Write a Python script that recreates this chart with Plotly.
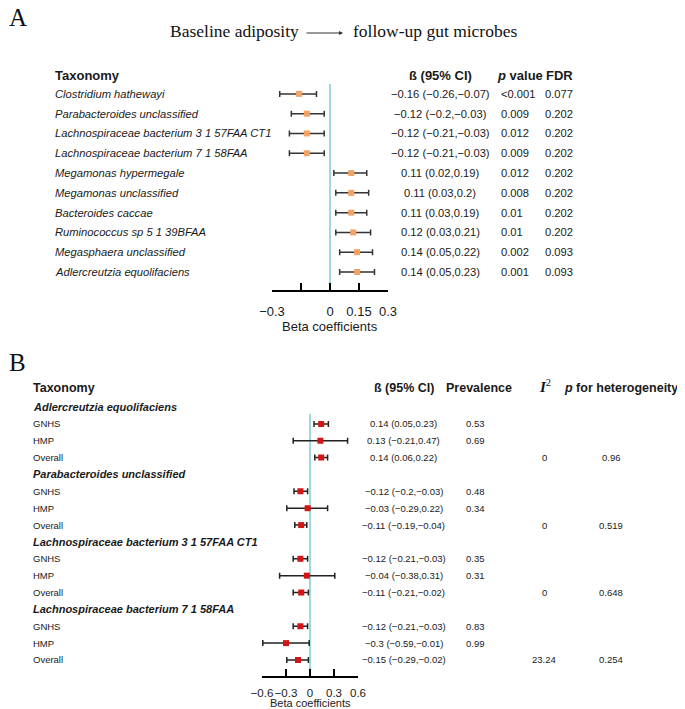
import plotly.graph_objects as go

# ---------------- Data: panel A ----------------
taxa_A = ["Clostridium hathewayi", "Parabacteroides unclassified",
          "Lachnospiraceae bacterium 3 1 57FAA CT1", "Lachnospiraceae bacterium 7 1 58FAA",
          "Megamonas hypermegale", "Megamonas unclassified", "Bacteroides caccae",
          "Ruminococcus sp 5 1 39BFAA", "Megasphaera unclassified", "Adlercreutzia equolifaciens"]
beta_A = [-0.16, -0.12, -0.12, -0.12, 0.11, 0.11, 0.11, 0.12, 0.14, 0.14]
lo_A = [-0.26, -0.2, -0.21, -0.21, 0.02, 0.03, 0.03, 0.03, 0.05, 0.05]
hi_A = [-0.07, -0.03, -0.03, -0.03, 0.19, 0.2, 0.19, 0.21, 0.22, 0.23]
p_A = ["<0.001", "0.009", "0.012", "0.009", "0.012", "0.008", "0.01", "0.01", "0.002", "0.001"]
fdr_A = ["0.077", "0.202", "0.202", "0.202", "0.202", "0.202", "0.202", "0.202", "0.093", "0.093"]
ticks_A = [-0.3, -0.15, 0, 0.15, 0.3]
ticktext_A = ["−0.3", "", "0", "0.15", "0.3"]

# ---------------- Data: panel B ----------------
groups_B = ["Adlercreutzia equolifaciens", "Parabacteroides unclassified",
            "Lachnospiraceae bacterium 3 1 57FAA CT1", "Lachnospiraceae bacterium 7 1 58FAA"]
cohorts_B = ["GNHS", "HMP", "Overall"]
beta_B = [0.14, 0.13, 0.14, -0.12, -0.03, -0.11, -0.12, -0.04, -0.11, -0.12, -0.3, -0.15]
lo_B = [0.05, -0.21, 0.06, -0.2, -0.29, -0.19, -0.21, -0.38, -0.21, -0.21, -0.59, -0.29]
hi_B = [0.23, 0.47, 0.22, -0.03, 0.22, -0.04, -0.03, 0.31, -0.02, -0.03, -0.01, -0.02]
prev_B = ["0.53", "0.69", "", "0.48", "0.34", "", "0.35", "0.31", "", "0.83", "0.99", ""]
i2_B = ["0", "0", "0", "23.24"]
phet_B = ["0.96", "0.519", "0.648", "0.254"]
ticks_B = [-0.6, -0.3, 0, 0.3, 0.6]
ticktext_B = ["−0.6", "−0.3", "0", "0.3", "0.6"]

# page body has an 8px margin; figure fills the rest of the 685x709 window
OFF = 8
W, H = 685 - OFF, 709 - OFF
SANS = "Liberation Sans, Arial, sans-serif"
SERIF = "Liberation Serif, Times New Roman, serif"
TXT = "#1a1a1a"


def px(x):
    return (x - OFF) / W


def py(y):
    return 1 - (y - OFF) / H


def fmt(v):
    return f"{v:g}".replace("-", "−")


def ci(b, l, h):
    return f"{fmt(b)} ({fmt(l)},{fmt(h)})"


fig = go.Figure()

# Panel A
rows_A = list(range(len(taxa_A)))
fig.add_trace(go.Scatter(
    x=beta_A, y=rows_A, mode="markers", xaxis="x", yaxis="y",
    marker=dict(symbol="square", size=6, color="#F4A261"),
    error_x=dict(type="data", symmetric=False,
                 array=[h - b for h, b in zip(hi_A, beta_A)],
                 arrayminus=[b - l for b, l in zip(beta_A, lo_A)],
                 color="#333333", thickness=1.5, width=3),
    hoverinfo="skip", showlegend=False))

# Panel B
rows_B = []
for g in range(len(groups_B)):
    for c in range(len(cohorts_B)):
        rows_B.append(4 * g + 1 + c)
fig.add_trace(go.Scatter(
    x=beta_B, y=rows_B, mode="markers", xaxis="x2", yaxis="y2",
    marker=dict(symbol="square", size=6, color="#D41515"),
    error_x=dict(type="data", symmetric=False,
                 array=[h - b for h, b in zip(hi_B, beta_B)],
                 arrayminus=[b - l for b, l in zip(beta_B, lo_B)],
                 color="#222222", thickness=1.5, width=3),
    hoverinfo="skip", showlegend=False))

shapes = [
    dict(type="line", xref="x", yref="y", x0=0, x1=0, y0=-0.5, y1=9.55,
         line=dict(color="#86CBD6", width=1.5), layer="below"),
    dict(type="line", xref="x2", yref="y2", x0=0, x1=0, y0=0.41, y1=15.55,
         line=dict(color="#86CBD6", width=1.5), layer="below"),
]

ann = []


def add(text, x, y, size, xanchor="left", yref="paper", family=SANS, color=TXT):
    ann.append(dict(text=text, x=x, y=y, xref="paper", yref=yref, showarrow=False,
                    xanchor=xanchor, yanchor="middle",
                    font=dict(family=family, size=size, color=color)))


# Panel letters and title
add("A", px(7), py(17), 25, family=SERIF, color="#111")
add("B", px(7), py(362), 25, family=SERIF, color="#111")
add("Baseline adiposity", px(301), py(31), 17.5, xanchor="right", family=SERIF, color="#111")
add("follow-up gut microbes", px(351), py(31), 17.5, family=SERIF, color="#111")
ann.append(dict(x=px(343), y=py(33), xref="paper", yref="paper", ax=-38, ay=0,
                showarrow=True, arrowhead=2, arrowsize=0.8, arrowwidth=1,
                arrowcolor="#333", text=""))

# Panel A headers
add("<b>Taxonomy</b>", px(53), py(75), 13)
add("<b>ß (95% CI)</b>", px(440), py(75), 13, xanchor="center")
add("<b><i>p</i> value</b>", px(495), py(75), 13)
add("<b>FDR</b>", px(544), py(75), 13)
for i, name in enumerate(taxa_A):
    add(f"<i>{name}</i>", px(53), i, 11.2, yref="y")
    add(ci(beta_A[i], lo_A[i], hi_A[i]), px(440), i, 11.2, xanchor="center", yref="y")
    add(p_A[i], px(499), i, 11.2, yref="y")
    add(fdr_A[i], px(543), i, 11.2, yref="y")
add("Beta coefficients", px(330), py(326), 13, xanchor="center")

# Panel B headers
add("<b>Taxonomy</b>", px(31), py(388), 12.5)
add("<b>ß (95% CI)</b>", px(404), py(388), 12.5, xanchor="center")
add("<b>Prevalence</b>", px(479), py(388), 12.5, xanchor="center")
add("<b><i>I</i></b><sup>2</sup>", px(545), py(386), 15, xanchor="center", family=SERIF, color="#111")
add("<b><i>p</i> for heterogeneity</b>", px(621), py(388), 12.5, xanchor="center")
k = 0
for g, gname in enumerate(groups_B):
    add(f"<b><i>{gname}</i></b>", px(31), 4 * g, 11, yref="y2")
    for c, cname in enumerate(cohorts_B):
        r = rows_B[k]
        add(cname, px(31), r, 9.5, yref="y2")
        add(ci(beta_B[k], lo_B[k], hi_B[k]), px(404), r, 9.5, xanchor="center", yref="y2")
        if prev_B[k]:
            add(prev_B[k], px(476), r, 9.5, xanchor="center", yref="y2")
        if cname == "Overall":
            add(i2_B[g], px(544), r, 9.5, xanchor="center", yref="y2")
            add(phet_B[g], px(611), r, 9.5, xanchor="center", yref="y2")
        k += 1
add("Beta coefficients", px(310), py(703), 11, xanchor="center")

axis_common = dict(showgrid=False, zeroline=False, showline=True, linecolor="black",
                   linewidth=1.5, ticks="inside", ticklen=7, tickwidth=1.5,
                   tickcolor="black", fixedrange=True, tickangle=0, automargin=False)
yaxis_common = dict(showgrid=False, zeroline=False, showline=False, showticklabels=False,
                    ticks="", fixedrange=True, automargin=False)

fig.update_layout(
    width=W, height=H, margin=dict(l=0, r=0, t=0, b=0, autoexpand=False),
    paper_bgcolor="white", plot_bgcolor="white",
    xaxis=dict(domain=[px(272), px(388)], range=[-0.3, 0.3], anchor="y",
               tickvals=ticks_A, ticktext=ticktext_A, ticklabelstandoff=9,
               tickfont=dict(family=SANS, size=13, color=TXT), **axis_common),
    yaxis=dict(domain=[py(290), py(84)], range=[9.91, -0.5], anchor="x", **yaxis_common),
    xaxis2=dict(domain=[px(262), px(358)], range=[-0.6, 0.6], anchor="y2",
                tickvals=ticks_B, ticktext=ticktext_B, ticklabelstandoff=5,
                tickfont=dict(family=SANS, size=11.5, color=TXT), **axis_common),
    yaxis2=dict(domain=[py(676), py(398.6)], range=[15.95, -0.5], anchor="x2", **yaxis_common),
    shapes=shapes, annotations=ann,
)

fig.write_html("out.html")
